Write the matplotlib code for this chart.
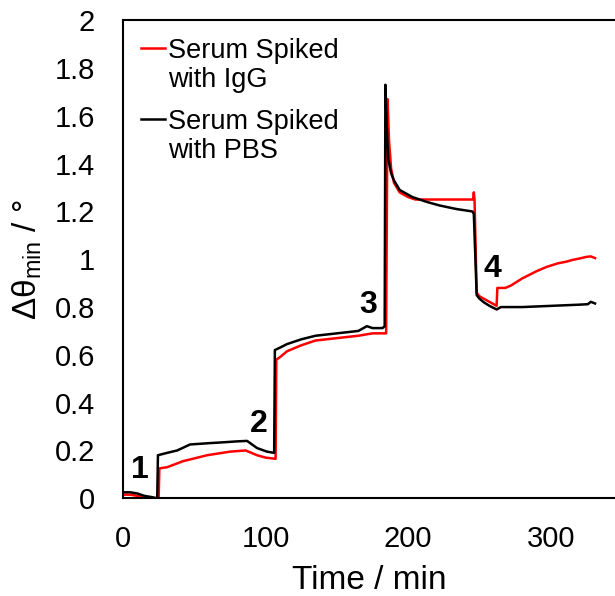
import numpy as np
import matplotlib.pyplot as plt
from matplotlib.legend_handler import HandlerLine2D

plt.rcParams['font.family'] = ['Liberation Sans', 'DejaVu Sans']
plt.rcParams['mathtext.fontset'] = 'custom'
plt.rcParams['mathtext.rm'] = 'Liberation Sans'
plt.rcParams['mathtext.it'] = 'Liberation Sans'

# time (min) and response for serum spiked with PBS (black)
t_pbs = [0, 5, 10, 15, 20, 24, 24.5, 31, 38, 47, 59, 70, 80, 87, 94, 101, 106,
         106.5, 110, 115, 125, 135, 150, 165, 171, 175, 182, 183.5, 184, 185, 186, 188,
         190, 194, 203, 213, 222, 234, 245, 246, 248, 250, 253, 257, 262, 265, 280, 300,
         320, 326, 328, 331]
y_pbs = [0.025, 0.025, 0.02, 0.01, 0.005, 0.0, 0.18, 0.19, 0.2, 0.225, 0.23, 0.234, 0.238,
         0.24, 0.21, 0.195, 0.19, 0.62, 0.63, 0.645, 0.665, 0.68, 0.69, 0.7, 0.72, 0.712,
         0.712, 0.72, 1.73, 1.55, 1.42, 1.36, 1.33, 1.29, 1.26, 1.24, 1.225, 1.21, 1.2,
         1.19, 0.85, 0.835, 0.82, 0.805, 0.79, 0.8, 0.8, 0.805, 0.81, 0.812, 0.822, 0.815]

# serum spiked with IgG (red)
t_igg = [0, 5, 10, 15, 20, 24, 25, 25.5, 31, 42, 59, 75, 86, 94, 100, 107, 107.5, 110,
         115, 125, 135, 150, 165, 175, 184.5, 185.5, 186.5, 188, 190, 194, 200, 205, 220,
         240, 245.5, 246, 246.5, 248, 250, 256, 262, 262.5, 268, 272, 276, 280, 285, 290,
         297, 305, 311, 315, 320, 325, 328, 331]
y_igg = [0.015, 0.015, 0.01, 0.005, 0.0, 0.0, 0.0, 0.125, 0.13, 0.155, 0.18, 0.195, 0.2,
         0.18, 0.17, 0.165, 0.58, 0.59, 0.615, 0.64, 0.66, 0.67, 0.68, 0.69, 0.69, 1.67,
         1.5, 1.38, 1.32, 1.28, 1.26, 1.25, 1.25, 1.25, 1.25, 1.28, 1.25, 0.86, 0.845, 0.825,
         0.805, 0.88, 0.88, 0.89, 0.905, 0.92, 0.935, 0.95, 0.968, 0.983, 0.99, 0.997,
         1.003, 1.01, 1.012, 1.005]

# injection step labels
step_labels = ['1', '2', '3', '4']
step_x = [12, 95, 172, 259]
step_y = [0.12, 0.31, 0.81, 0.96]


# legend line sits beside the first line of a two-line label
class TopLine(HandlerLine2D):
    def create_artists(self, legend, orig_handle, xdescent, ydescent, width, height,
                       fontsize, trans):
        arts = super().create_artists(legend, orig_handle, xdescent, ydescent, width,
                                      height, fontsize, trans)
        for a in arts:
            a.set_ydata(np.asarray(a.get_ydata()) + 0.68 * fontsize)
        return arts


fig = plt.figure(figsize=(6.15, 5.96), dpi=100)
ax = fig.add_axes([0.2, 0.164, 0.8, 0.802])

l1, = ax.plot(t_igg, y_igg, color='#ff0000', lw=1.8, label='Serum Spiked\nwith IgG', zorder=2)
l2, = ax.plot(t_pbs, y_pbs, color='black', lw=1.8, label='Serum Spiked\nwith PBS', zorder=3)

for s, x, y in zip(step_labels, step_x, step_y):
    ax.text(x, y, s, fontsize=23, fontweight='bold', ha='center', va='center')

ax.set_xlim(0, 345)
ax.set_ylim(0, 2)
ax.set_xticks([0, 100, 200, 300])
ax.set_yticks(np.arange(0, 2.01, 0.2))
ax.set_yticklabels(['0', '0.2', '0.4', '0.6', '0.8', '1', '1.2', '1.4', '1.6', '1.8', '2'])
ax.tick_params(axis='both', length=0, labelsize=21)
ax.tick_params(axis='y', pad=20)
ax.tick_params(axis='x', pad=19)
ax.spines['right'].set_visible(False)
for sp in ['left', 'bottom', 'top']:
    ax.spines[sp].set_linewidth(1.5)

ax.set_xlabel('Time / min', fontsize=24, labelpad=9)
ax.set_ylabel(r'Δθ$_{\mathrm{min}}$ / °', fontsize=24, labelpad=8)

leg = ax.legend(handler_map={l1: TopLine(), l2: TopLine()}, loc='upper left',
                frameon=False, fontsize=19.5, handlelength=0.9, handletextpad=0.1,
                labelspacing=0.59, borderaxespad=0.25)
for t in leg.get_texts():
    t.set_linespacing(1.16)

fig.savefig('out.png')
